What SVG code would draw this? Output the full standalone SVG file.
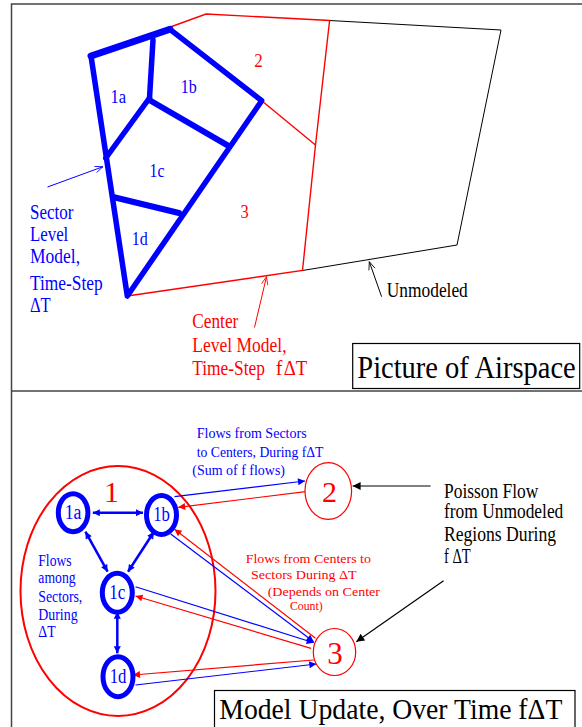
<svg xmlns="http://www.w3.org/2000/svg" width="582" height="727" viewBox="0 0 582 727">
<style>
text{font-family:"Liberation Serif","Times New Roman",serif}
.b{fill:#0000ff}.r{fill:#ff0000}.k{fill:#000}
.frame{stroke:#444;stroke-width:1.5;fill:none}
.sec{stroke:#0000ff;stroke-width:5.5;fill:none;stroke-linecap:round;stroke-linejoin:round}
.ctr{stroke:#ff0000;stroke-width:1.4;fill:none}
.unm{stroke:#000;stroke-width:1;fill:none}
.node{fill:#fff;stroke:#0000ff;stroke-width:5}
.cnode{fill:#fff;stroke:#ff0000;stroke-width:1.2}
.dbl{stroke:#0000ff;stroke-width:2.5;fill:none;marker-start:url(#ab);marker-end:url(#ab)}
.fb{stroke:#0000ff;stroke-width:1.2;fill:none;marker-end:url(#ab)}
.fr{stroke:#ff0000;stroke-width:1.2;fill:none;marker-end:url(#ar)}
.fk{stroke:#000;stroke-width:1.2;fill:none;marker-end:url(#ak)}
</style>
<defs>
<marker id="ab" viewBox="0 0 10 10" refX="10" refY="5" markerWidth="10" markerHeight="7" markerUnits="userSpaceOnUse" orient="auto-start-reverse"><path d="M0,0L10,5L0,10z" fill="#0000ff"/></marker>
<marker id="ar" viewBox="0 0 10 10" refX="10" refY="5" markerWidth="10" markerHeight="7" markerUnits="userSpaceOnUse" orient="auto"><path d="M0,0L10,5L0,10z" fill="#ff0000"/></marker>
<marker id="ak" viewBox="0 0 10 10" refX="10" refY="5" markerWidth="12" markerHeight="8" markerUnits="userSpaceOnUse" orient="auto"><path d="M0,0L10,5L0,10z" fill="#000"/></marker>
<marker id="ob" viewBox="0 0 10 10" refX="10" refY="5" markerWidth="12" markerHeight="8" markerUnits="userSpaceOnUse" orient="auto"><path d="M0,1L10,5L0,9" fill="none" stroke="#0000ff" stroke-width="1"/></marker>
<marker id="or" viewBox="0 0 10 10" refX="10" refY="5" markerWidth="12" markerHeight="8" markerUnits="userSpaceOnUse" orient="auto"><path d="M0,1L10,5L0,9" fill="none" stroke="#ff0000" stroke-width="1"/></marker>
<marker id="ok" viewBox="0 0 10 10" refX="10" refY="5" markerWidth="12" markerHeight="8" markerUnits="userSpaceOnUse" orient="auto"><path d="M0,1L10,5L0,9" fill="none" stroke="#000" stroke-width="1"/></marker>
</defs>

<!-- frame -->
<g id="frame">
<path class="frame" d="M11.5,727V4H582"/>
<line class="frame" x1="11" y1="391" x2="582" y2="391"/>
</g>

<!-- ===== Top: Picture of Airspace ===== -->
<g id="unmodeled">
<polyline class="unm" points="329.6,20.5 501,30 457,245 302.5,270.5"/>
</g>
<g id="centers">
<polyline class="ctr" points="169,27.5 206,14 329.6,20.5 315.5,145 302.5,270.5 127.3,296"/>
<line class="ctr" x1="261.7" y1="100.7" x2="315.5" y2="145"/>
</g>
<g id="sectors">
<line class="sec" style="stroke-width:7" x1="91" y1="56" x2="170" y2="29.3"/>
<polyline class="sec" points="170,29.3 261.7,100.7 127.3,296 91,56"/>
<line class="sec" x1="153" y1="40" x2="149.5" y2="98"/>
<line class="sec" x1="149.5" y1="98" x2="105.8" y2="158"/>
<line class="sec" style="stroke-width:6" x1="151" y1="101" x2="228" y2="145.7"/>
<line class="sec" style="stroke-width:6" x1="113" y1="197" x2="179" y2="213"/>
</g>
<g id="top-labels" font-size="19">
<text class="b" x="110.6" y="103.3" textLength="15.6" lengthAdjust="spacingAndGlyphs">1a</text>
<text class="b" x="180.8" y="93.3" textLength="16" lengthAdjust="spacingAndGlyphs">1b</text>
<text class="b" x="149.6" y="176.7" textLength="14.8" lengthAdjust="spacingAndGlyphs">1c</text>
<text class="b" x="131.8" y="245" textLength="16" lengthAdjust="spacingAndGlyphs">1d</text>
<text class="r" x="254.3" y="66.7" textLength="8.5" lengthAdjust="spacingAndGlyphs">2</text>
<text class="r" x="240.5" y="218.3" textLength="8.2" lengthAdjust="spacingAndGlyphs">3</text>
</g>
<g id="top-pointers">
<line x1="47.5" y1="187" x2="103" y2="166.7" stroke="#0000ff" stroke-width="1" marker-end="url(#ob)"/>
<line x1="254.5" y1="327.5" x2="266.5" y2="276.7" stroke="#ff0000" stroke-width="1" marker-end="url(#or)"/>
<line x1="381.6" y1="296.7" x2="369.3" y2="261.7" stroke="#000" stroke-width="1" marker-end="url(#ok)"/>
</g>
<g id="sector-note" class="b" font-size="21">
<text x="30" y="219" textLength="43.3" lengthAdjust="spacingAndGlyphs">Sector</text>
<text x="30" y="241" textLength="38.3" lengthAdjust="spacingAndGlyphs">Level</text>
<text x="30" y="263.3" textLength="50" lengthAdjust="spacingAndGlyphs">Model,</text>
<text x="30" y="290" textLength="72.7" lengthAdjust="spacingAndGlyphs">Time-Step</text>
<text x="30" y="312.3" textLength="20.7" lengthAdjust="spacingAndGlyphs">ΔT</text>
</g>
<g id="center-note" class="r" font-size="20">
<text x="192.3" y="328.3" textLength="46" lengthAdjust="spacingAndGlyphs">Center</text>
<text x="192.3" y="351.7" textLength="94.3" lengthAdjust="spacingAndGlyphs">Level Model,</text>
<text x="192.3" y="375" textLength="72.7" lengthAdjust="spacingAndGlyphs">Time-Step</text>
<text x="275.7" y="375">f</text>
<text x="283.7" y="375" textLength="23.6" lengthAdjust="spacingAndGlyphs">ΔT</text>
</g>
<text class="k" x="386.8" y="296.7" font-size="20" textLength="81" lengthAdjust="spacingAndGlyphs">Unmodeled</text>
<g id="title-top">
<rect x="352.7" y="343.5" width="227" height="45" fill="#fff" stroke="#000" stroke-width="1.2"/>
<text class="k" x="357.3" y="329" font-size="28" transform="scale(1,1.15)" textLength="218.4" lengthAdjust="spacingAndGlyphs">Picture of Airspace</text>
</g>

<!-- ===== Bottom: Model Update ===== -->
<g id="center-1">
<ellipse cx="118" cy="591" rx="97.5" ry="125" fill="none" stroke="#ff0000" stroke-width="2"/>
<text class="r" x="111.5" y="502" font-size="30" text-anchor="middle">1</text>
</g>

<g id="connectors">
<line class="dbl" x1="92.8" y1="512.7" x2="143" y2="512.7"/>
<line class="dbl" x1="85.4" y1="531.7" x2="107.6" y2="571.7"/>
<line class="dbl" x1="154" y1="531.7" x2="128" y2="571.7"/>
<line class="dbl" x1="117.3" y1="611.7" x2="117.3" y2="653.3"/>
<line class="fb" x1="174.5" y1="496.7" x2="305" y2="481"/>
<line class="fr" x1="305.5" y1="491.7" x2="178.2" y2="507.3"/>
<line class="fb" x1="170.7" y1="534" x2="313.7" y2="641.7"/>
<line class="fr" x1="315.5" y1="638.3" x2="174.5" y2="529.3"/>
<line class="fb" x1="135.5" y1="586.7" x2="313.7" y2="642.7"/>
<line class="fr" x1="311" y1="648.3" x2="135.5" y2="596"/>
<line class="fr" x1="313.7" y1="660" x2="133" y2="675"/>
<line class="fb" x1="135.5" y1="685" x2="316.3" y2="664"/>
<line class="fk" x1="430.6" y1="486" x2="352.6" y2="486"/>
<line class="fk" x1="443.6" y1="580.7" x2="356.3" y2="641.7"/>
</g>

<g id="n1a"><ellipse class="node" cx="73.1" cy="512.7" rx="14.8" ry="19"/><text class="b" x="73.1" y="518.5" font-size="20" text-anchor="middle" textLength="16.7" lengthAdjust="spacingAndGlyphs">1a</text></g>
<g id="n1b"><ellipse class="node" cx="161.5" cy="515" rx="15" ry="19.5"/><text class="b" x="161.5" y="521" font-size="20" text-anchor="middle" textLength="16.7" lengthAdjust="spacingAndGlyphs">1b</text></g>
<g id="n1c"><ellipse class="node" cx="117.3" cy="592.7" rx="15" ry="19.5"/><text class="b" x="117.3" y="598.5" font-size="20" text-anchor="middle" textLength="16" lengthAdjust="spacingAndGlyphs">1c</text></g>
<g id="n1d"><ellipse class="node" cx="118" cy="676.7" rx="15" ry="20"/><text class="b" x="118" y="682.5" font-size="20" text-anchor="middle" textLength="16.7" lengthAdjust="spacingAndGlyphs">1d</text></g>
<g id="n2"><ellipse class="cnode" cx="328.3" cy="491" rx="23.3" ry="28.3"/><text class="r" x="329.5" y="501.7" font-size="30" text-anchor="middle">2</text></g>
<g id="n3"><ellipse class="cnode" cx="334.5" cy="652" rx="21.2" ry="23.5"/><text class="r" x="335" y="664" font-size="31" text-anchor="middle">3</text></g>

<g id="sec-to-ctr" class="b" font-size="14">
<text x="196.7" y="438.3" textLength="110" lengthAdjust="spacingAndGlyphs">Flows from Sectors</text>
<text x="196.7" y="457.3" textLength="126.7" lengthAdjust="spacingAndGlyphs">to Centers, During fΔT</text>
<text x="192.3" y="475" textLength="92.7" lengthAdjust="spacingAndGlyphs">(Sum of f flows)</text>
</g>
<g id="ctr-to-sec" class="r" font-size="13">
<text x="245.7" y="563.3" textLength="125.3" lengthAdjust="spacingAndGlyphs">Flows from Centers to</text>
<text x="251" y="579.3" textLength="105.7" lengthAdjust="spacingAndGlyphs">Sectors During ΔT</text>
<text x="267.7" y="595.5" textLength="112.3" lengthAdjust="spacingAndGlyphs">(Depends on Center</text>
<text x="290" y="610" textLength="32.7" lengthAdjust="spacingAndGlyphs">Count)</text>
</g>
<g id="among" class="b" font-size="16">
<text x="38.3" y="565.7" textLength="33.3" lengthAdjust="spacingAndGlyphs">Flows</text>
<text x="38.3" y="583" textLength="37.3" lengthAdjust="spacingAndGlyphs">among</text>
<text x="38.3" y="601.7" textLength="44" lengthAdjust="spacingAndGlyphs">Sectors,</text>
<text x="38.3" y="620" textLength="39.3" lengthAdjust="spacingAndGlyphs">During</text>
<text x="38.3" y="637" textLength="17.3" lengthAdjust="spacingAndGlyphs">ΔT</text>
</g>
<g id="poisson" class="k" font-size="20">
<text x="444" y="498.3" textLength="94.3" lengthAdjust="spacingAndGlyphs">Poisson Flow</text>
<text x="444" y="518.3" textLength="119.3" lengthAdjust="spacingAndGlyphs">from Unmodeled</text>
<text x="444" y="541" textLength="112" lengthAdjust="spacingAndGlyphs">Regions During</text>
<text x="444" y="562.7" textLength="26.7" lengthAdjust="spacingAndGlyphs">f ΔT</text>
</g>
<g id="title-bottom">
<rect x="214.5" y="690.5" width="360.5" height="40" fill="#fff" stroke="#000" stroke-width="1.2"/>
<text class="k" x="219.3" y="719" font-size="29" textLength="343" lengthAdjust="spacingAndGlyphs">Model Update, Over Time fΔT</text>
</g>
</svg>
